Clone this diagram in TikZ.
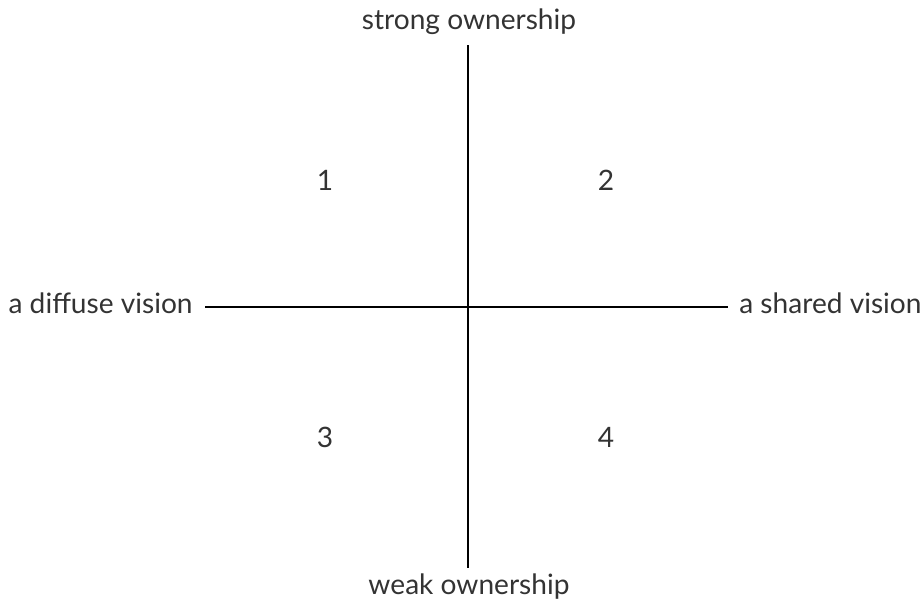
\documentclass[tikz,border=0pt]{standalone}
\usepackage{fontspec}
\setmainfont{Lato}
\usepackage{tikz}
\definecolor{labelgray}{HTML}{333333}

\tikzset{
  axislabel/.style={text=labelgray, font=\fontsize{16}{19}\selectfont, inner sep=0pt},
  quadnum/.style={text=labelgray, font=\fontsize{16}{19}\selectfont, inner sep=0pt},
  axisline/.style={line width=1.1pt, black}
}

\begin{document}
\begin{tikzpicture}[x=0.02cm, y=-0.02cm]
  \useasboundingbox (0,0) rectangle (924,603);
  % axis ends
  \coordinate (top) at (468,45);
  \coordinate (bottom) at (468,568);
  \coordinate (left) at (205,307);
  \coordinate (right) at (728,307);
  \draw[axisline] (top) -- (bottom);
  \draw[axisline] (left) -- (right);
  % axis labels
  \node[axislabel] (strong) at (469,22) {strong ownership};
  \node[axislabel] (weak) at (469,587) {weak ownership};
  \node[axislabel, anchor=east] (diffuse) at (193,303) {a diffuse vision};
  \node[axislabel, anchor=west] (shared) at (739,303) {a shared vision};
  % quadrants
  \node[quadnum] (q1) at (325,180) {1};
  \node[quadnum] (q2) at (606,180) {2};
  \node[quadnum] (q3) at (325,437) {3};
  \node[quadnum] (q4) at (606,437) {4};
\end{tikzpicture}
\end{document}
